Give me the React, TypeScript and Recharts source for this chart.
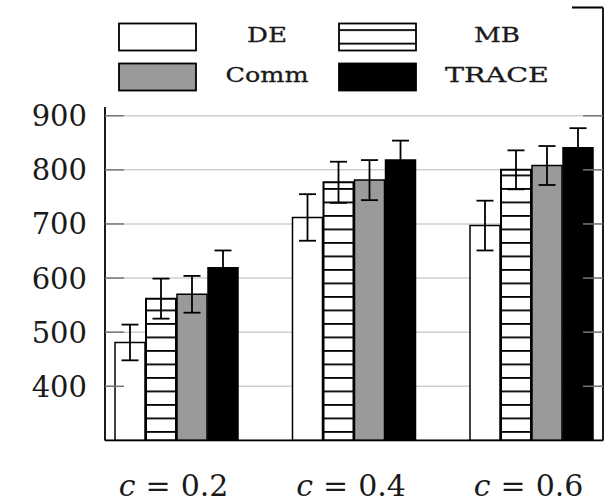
import React from "react";
import { BarChart, Bar, XAxis, YAxis, CartesianGrid, ErrorBar, Legend, ReferenceLine } from "recharts";

// values
const CATEGORIES = ["0.2", "0.4", "0.6"];
const SERIES = ["DE", "MB", "Comm", "TRACE"];
const DE = [481, 712, 697];
const DE_ERR = [33, 43, 46];
const MB = [562, 777, 800];
const MB_ERR = [37, 38, 36];
const COMM = [570, 781, 808];
const COMM_ERR = [34, 37, 36];
const TRACE = [619, 818, 841];
const TRACE_ERR = [32, 36, 36];
const Y_TICKS = [400, 500, 600, 700, 800, 900];
const Y_DOMAIN: [number, number] = [300, 1100];

const VALUES: Record<string, number[]> = { DE, MB, Comm: COMM, TRACE };
const ERRORS: Record<string, number[]> = { DE: DE_ERR, MB: MB_ERR, Comm: COMM_ERR, TRACE: TRACE_ERR };

const data = CATEGORIES.map((c, i) => {
  const row: Record<string, string | number> = { c };
  SERIES.forEach((s) => {
    row[s] = VALUES[s][i];
    row[s + "Err"] = ERRORS[s][i];
  });
  return row;
});

const STYLE: Record<string, { fill: string; legendFill: string; stroke: number; textW: number }> = {
  DE: { fill: "#ffffff", legendFill: "#ffffff", stroke: 1.5, textW: 40 },
  MB: { fill: "url(#mbStripes)", legendFill: "url(#mbLegend)", stroke: 2, textW: 46 },
  Comm: { fill: "#9a9a9a", legendFill: "#9a9a9a", stroke: 1.5, textW: 83 },
  TRACE: { fill: "#000000", legendFill: "#000000", stroke: 1.5, textW: 104 },
};

const SERIF = "DejaVu Serif";
const INK = "#1a1a1a";

const LeftTick = (props: any) => {
  const { x, y, payload } = props;
  return (
    <g>
      <line x1={x} x2={x + 19} y1={y} y2={y} stroke="#777" strokeWidth={1.5} />
      <text x={x - 18} y={y} dy={10.5} textAnchor="end" fontFamily={SERIF} fontSize={29} fill={INK}>
        {payload.value}
      </text>
    </g>
  );
};

const RightTick = (props: any) => {
  const { x, y } = props;
  return <line x1={x - 20} x2={x} y1={y} y2={y} stroke="#777" strokeWidth={1.5} />;
};

// "c = 0.2" with math-like spacing around the equals sign
const BottomTick = (props: any) => {
  const { x, y, payload } = props;
  return (
    <text x={x - 58} y={y + 56} textAnchor="start" fontFamily={SERIF} fontSize={30} fill={INK}>
      <tspan fontStyle="italic">c</tspan>
      <tspan dx={10}>=</tspan>
      <tspan dx={10}>{payload.value}</tspan>
    </text>
  );
};

const LegendBox = () => (
  <svg width={477} height={107} style={{ display: "block" }}>
    <defs>
      <pattern id="mbLegend" patternUnits="userSpaceOnUse" x={0} y={29.2} width={8} height={13.5}>
        <rect width={8} height={13.5} fill="#fff" />
        <rect width={8} height={1.8} fill="#000" />
      </pattern>
    </defs>
    {SERIES.map((s, i) => {
      const col = i % 2;
      const row = Math.floor(i / 2);
      const bx = 24 + col * 220;
      const by = 23.5 + row * 40;
      return (
        <g key={s}>
          <rect x={bx} y={by} width={77} height={27} fill={STYLE[s].legendFill} stroke="#000" strokeWidth={1.8} />
          <text
            x={172 + col * 230}
            y={by + 18}
            textAnchor="middle"
            fontFamily={SERIF}
            fontSize={21}
            fill={INK}
            stroke={INK}
            strokeWidth={0.3}
            textLength={STYLE[s].textW}
            lengthAdjust="spacingAndGlyphs"
          >
            {s}
          </text>
        </g>
      );
    })}
  </svg>
);

export default function App() {
  return (
    <div style={{ position: "absolute", left: 0, top: 0, background: "#fff" }}>
      <BarChart
        width={613}
        height={503}
        data={data}
        margin={{ top: 7.5, right: 0, bottom: 0, left: 0 }}
        barSize={30}
        barGap={1}
      >
        <defs>
          <pattern id="mbStripes" patternUnits="userSpaceOnUse" x={0} y={431} width={8} height={13.5}>
            <rect width={8} height={13.5} fill="#fff" />
            <rect width={8} height={1.8} fill="#000" />
          </pattern>
        </defs>
        <CartesianGrid vertical={false} stroke="#cfcfcf" strokeWidth={1.5} />
        <XAxis
          dataKey="c"
          height={62.6}
          padding={{ left: -17, right: -17.5 }}
          axisLine={{ stroke: "#000", strokeWidth: 1.8 }}
          tickLine={false}
          tickSize={0}
          tickMargin={0}
          tick={<BottomTick />}
        />
        <YAxis
          width={105}
          domain={Y_DOMAIN}
          ticks={Y_TICKS}
          allowDataOverflow
          axisLine={{ stroke: "#000", strokeWidth: 1.8 }}
          tickLine={false}
          tickSize={0}
          tickMargin={0}
          tick={<LeftTick />}
        />
        <YAxis
          yAxisId="right"
          orientation="right"
          width={10}
          domain={Y_DOMAIN}
          ticks={Y_TICKS}
          allowDataOverflow
          axisLine={{ stroke: "#000", strokeWidth: 1.8 }}
          tickLine={false}
          tickSize={0}
          tickMargin={0}
          tick={<RightTick />}
        />
        <ReferenceLine y={1100} stroke="#000" strokeWidth={1.8} />
        {SERIES.map((s) => (
          <Bar
            key={s}
            dataKey={s}
            fill={STYLE[s].fill}
            stroke="#000"
            strokeWidth={STYLE[s].stroke}
            isAnimationActive={false}
          >
            <ErrorBar dataKey={s + "Err"} width={8.5} stroke="#000" strokeWidth={1.8} direction="y" isAnimationActive={false} />
          </Bar>
        ))}
        <Legend
          layout="horizontal"
          verticalAlign="middle"
          align="center"
          content={<LegendBox />}
          wrapperStyle={{ position: "absolute", left: 95, top: 0, width: 477, height: 107, background: "#fff" }}
        />
      </BarChart>
    </div>
  );
}
